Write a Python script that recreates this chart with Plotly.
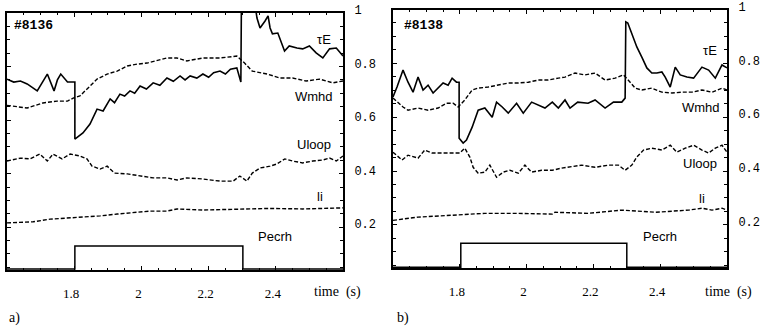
import plotly.graph_objects as go

# ---------------- data: panel a (#8136) ----------------
a_tau_t = [1.60, 1.62, 1.64, 1.66, 1.69, 1.705, 1.72, 1.74, 1.75, 1.76, 1.78, 1.802, 1.802, 1.826, 1.847,
           1.868, 1.886, 1.907, 1.92, 1.936, 1.95, 1.966, 1.98, 1.996, 2.015, 2.035, 2.055, 2.076,
           2.095, 2.115, 2.13, 2.145, 2.165, 2.183, 2.20, 2.215, 2.234, 2.25, 2.265, 2.284, 2.296,
           2.298, 2.33, 2.344, 2.353, 2.368, 2.377, 2.383, 2.39, 2.406, 2.418, 2.426, 2.44, 2.463,
           2.48, 2.50, 2.52, 2.54, 2.56, 2.58, 2.60]
a_tau_v = [0.753, 0.742, 0.746, 0.735, 0.709, 0.742, 0.772, 0.709, 0.750, 0.772, 0.742, 0.742, 0.529, 0.552,
           0.585, 0.641, 0.634, 0.679, 0.665, 0.697, 0.690, 0.709, 0.700, 0.727, 0.716, 0.739, 0.730,
           0.757, 0.745, 0.765, 0.750, 0.765, 0.757, 0.772, 0.760, 0.777, 0.783, 0.772, 0.790, 0.795,
           0.742, 1.10, 1.10, 0.981, 0.944, 0.970, 0.989, 0.944, 0.922, 0.925, 0.888, 0.858, 0.877,
           0.869, 0.866, 0.877, 0.851, 0.832, 0.866, 0.869, 0.839]

a_w_t = [1.60, 1.61, 1.66, 1.707, 1.749, 1.78, 1.797, 1.817, 1.838, 1.868, 1.898, 1.928, 1.958, 1.987,
         2.017, 2.046, 2.076, 2.106, 2.135, 2.183, 2.234, 2.284, 2.307, 2.33, 2.374, 2.413, 2.45,
         2.49, 2.53, 2.57, 2.60]
a_w_v = [0.655, 0.653, 0.645, 0.664, 0.671, 0.671, 0.682, 0.690, 0.716, 0.753, 0.772, 0.783, 0.802, 0.809,
         0.813, 0.821, 0.832, 0.832, 0.821, 0.832, 0.832, 0.839, 0.813, 0.783, 0.772, 0.757, 0.757,
         0.746, 0.753, 0.739, 0.746]

a_u_t = [1.60, 1.64, 1.668, 1.698, 1.72, 1.737, 1.764, 1.788, 1.817, 1.838, 1.853, 1.877, 1.898, 1.92,
         1.958, 1.996, 2.035, 2.076, 2.106, 2.135, 2.183, 2.234, 2.273, 2.293, 2.314, 2.33, 2.353,
         2.383, 2.403, 2.427, 2.45, 2.48, 2.51, 2.54, 2.56, 2.58, 2.60]
a_u_v = [0.447, 0.458, 0.455, 0.473, 0.447, 0.473, 0.455, 0.473, 0.466, 0.455, 0.428, 0.417, 0.428, 0.402,
         0.399, 0.391, 0.384, 0.384, 0.376, 0.384, 0.380, 0.372, 0.372, 0.391, 0.372, 0.402, 0.421,
         0.428, 0.436, 0.455, 0.447, 0.440, 0.447, 0.451, 0.458, 0.447, 0.466]

a_li_t = [1.60, 1.678, 1.728, 1.78, 1.826, 1.877, 1.928, 1.975, 2.025, 2.076, 2.106, 2.183, 2.28, 2.383,
          2.48, 2.58, 2.60]
a_li_v = [0.216, 0.220, 0.230, 0.234, 0.238, 0.242, 0.249, 0.253, 0.260, 0.260, 0.268, 0.264, 0.268, 0.270,
          0.268, 0.272, 0.272]

a_p_t = [1.60, 1.802, 1.802, 2.302, 2.302, 2.60]
a_p_v = [0.044, 0.044, 0.130, 0.130, 0.044, 0.044]

# ---------------- data: panel b (#8138) ----------------
b_tau_t = [1.60, 1.612, 1.63, 1.645, 1.66, 1.675, 1.69, 1.705, 1.72, 1.735, 1.75, 1.765, 1.777, 1.79,
           1.798, 1.798, 1.81, 1.82, 1.837, 1.855, 1.875, 1.897, 1.91, 1.927, 1.945, 1.97, 1.99,
           2.015, 2.035, 2.055, 2.077, 2.095, 2.115, 2.13, 2.153, 2.184, 2.205, 2.235, 2.26, 2.285,
           2.295, 2.297, 2.303, 2.315, 2.33, 2.345, 2.36, 2.375, 2.39, 2.405, 2.415, 2.43, 2.445,
           2.46, 2.48, 2.50, 2.525, 2.545, 2.565, 2.585, 2.60]
b_tau_v = [0.675, 0.712, 0.775, 0.730, 0.693, 0.749, 0.701, 0.719, 0.690, 0.708, 0.727, 0.719, 0.745, 0.730,
           0.730, 0.522, 0.504, 0.515, 0.563, 0.626, 0.634, 0.600, 0.656, 0.638, 0.615, 0.652, 0.615,
           0.656, 0.645, 0.634, 0.656, 0.634, 0.664, 0.634, 0.656, 0.652, 0.664, 0.634, 0.656, 0.656,
           0.671, 0.954, 0.950, 0.913, 0.861, 0.823, 0.783, 0.764, 0.764, 0.768, 0.749, 0.712, 0.786,
           0.757, 0.749, 0.745, 0.786, 0.775, 0.745, 0.794, 0.783]

b_w_t = [1.60, 1.63, 1.645, 1.675, 1.705, 1.735, 1.76, 1.78, 1.795, 1.815, 1.837, 1.855, 1.885, 1.915,
         1.945, 1.975, 2.005, 2.035, 2.065, 2.095, 2.115, 2.145, 2.175, 2.205, 2.235, 2.265, 2.29,
         2.31, 2.325, 2.345, 2.375, 2.405, 2.435, 2.465, 2.495, 2.525, 2.555, 2.585, 2.60]
b_w_v = [0.671, 0.638, 0.626, 0.634, 0.626, 0.634, 0.652, 0.652, 0.638, 0.664, 0.701, 0.708, 0.712, 0.719,
         0.727, 0.727, 0.730, 0.738, 0.738, 0.745, 0.749, 0.764, 0.757, 0.764, 0.738, 0.745, 0.757,
         0.730, 0.708, 0.701, 0.708, 0.693, 0.690, 0.693, 0.693, 0.701, 0.693, 0.708, 0.701]

b_u_t = [1.60, 1.627, 1.645, 1.675, 1.695, 1.717, 1.747, 1.777, 1.80, 1.815, 1.83, 1.84, 1.855, 1.875,
         1.89, 1.91, 1.93, 1.95, 1.975, 1.995, 2.015, 2.045, 2.077, 2.105, 2.125, 2.165, 2.205,
         2.245, 2.275, 2.295, 2.315, 2.33, 2.35, 2.375, 2.405, 2.43, 2.45, 2.475, 2.50, 2.525,
         2.545, 2.565, 2.585, 2.60]
b_u_v = [0.470, 0.441, 0.459, 0.448, 0.478, 0.467, 0.467, 0.467, 0.467, 0.485, 0.452, 0.414, 0.392, 0.396,
         0.422, 0.377, 0.396, 0.403, 0.392, 0.422, 0.396, 0.403, 0.403, 0.411, 0.414, 0.422, 0.414,
         0.422, 0.422, 0.403, 0.422, 0.452, 0.478, 0.485, 0.478, 0.496, 0.470, 0.485, 0.496, 0.478,
         0.467, 0.485, 0.496, 0.470]

b_li_t = [1.60, 1.675, 1.777, 1.875, 1.975, 2.077, 2.085, 2.184, 2.285, 2.385, 2.485, 2.525, 2.555,
          2.585, 2.60]
b_li_v = [0.217, 0.229, 0.236, 0.243, 0.243, 0.240, 0.247, 0.243, 0.255, 0.247, 0.255, 0.262, 0.255,
          0.262, 0.255]

b_p_t = [1.60, 1.803, 1.803, 2.30, 2.30, 2.60]
b_p_v = [0.043, 0.043, 0.132, 0.132, 0.043, 0.043]

x_ticks = [1.8, 2.0, 2.2, 2.4]
x_tick_text = ["1.8", "2", "2.2", "2.4"]
y_ticks = [0.2, 0.4, 0.6, 0.8, 1.0]
y_tick_text = ["0.2", "0.4", "0.6", "0.8", "1"]

# ---------------- figure ----------------
W, H = 761, 327

def px(x):
    return x / W

def py(y):
    return 1 - y / H

fig = go.Figure()
DASH = "4px,2px"

def add_panel(xa, ya, tau, w, u, li, p):
    fig.add_trace(go.Scatter(x=tau[0], y=tau[1], mode="lines", xaxis=xa, yaxis=ya,
                             line=dict(color="black", width=1.6)))
    for s in (w, u, li):
        fig.add_trace(go.Scatter(x=s[0], y=s[1], mode="lines", xaxis=xa, yaxis=ya,
                                 line=dict(color="black", width=1.4, dash=DASH)))
    fig.add_trace(go.Scatter(x=p[0], y=p[1], mode="lines", xaxis=xa, yaxis=ya,
                             line=dict(color="black", width=1.5)))

add_panel("x", "y", (a_tau_t, a_tau_v), (a_w_t, a_w_v), (a_u_t, a_u_v), (a_li_t, a_li_v), (a_p_t, a_p_v))
add_panel("x2", "y2", (b_tau_t, b_tau_v), (b_w_t, b_w_v), (b_u_t, b_u_v), (b_li_t, b_li_v), (b_p_t, b_p_v))

def xaxis_cfg(domain, anchor):
    return dict(domain=domain, anchor=anchor, range=[1.6, 2.6], tickvals=x_ticks, ticktext=x_tick_text,
                ticks="inside", ticklen=4, tickcolor="black", showline=True, linewidth=2,
                linecolor="black", mirror="allticks", showgrid=False, zeroline=False,
                automargin=False,
                tickfont=dict(family="Liberation Serif", size=13, color="black"),
                ticklabelstandoff=10, ticklabelshift=-3,
                minor=dict(dtick=0.05, ticks="inside", ticklen=2, tickcolor="black"))

def yaxis_cfg(domain, anchor):
    return dict(domain=domain, anchor=anchor, range=[0.04, 1.0], side="right", tickvals=y_ticks,
                ticktext=y_tick_text, ticks="inside", ticklen=4, tickcolor="black", showline=True,
                linewidth=2, linecolor="black", mirror="allticks", showgrid=False, zeroline=False,
                automargin=False,
                tickfont=dict(family="Liberation Mono", size=12, color="black"),
                ticklabelstandoff=7, ticklabelshift=-3,
                minor=dict(dtick=0.05, ticks="inside", ticklen=3, tickcolor="black"))

fig.update_layout(
    width=W, height=H, margin=dict(l=0, r=0, t=0, b=0, autoexpand=False),
    paper_bgcolor="white", plot_bgcolor="white", showlegend=False,
    xaxis=xaxis_cfg([px(7), px(343)], "y"),
    yaxis=yaxis_cfg([py(270), py(13)], "x"),
    xaxis2=xaxis_cfg([px(393), px(727)], "y2"),
    yaxis2=yaxis_cfg([py(268), py(9.5)], "x2"),
)

sans = dict(family="Liberation Sans", size=13, color="black")
serif = dict(family="Liberation Serif", size=14, color="black")
mono = dict(family="Liberation Mono", size=13, color="black")

labels = [
    ("<b>#8136</b>", 12, 25, mono, "left"), ("<b>#8138</b>", 402, 25, mono, "left"),
    ("τE", 324, 40, sans, "center"), ("Wmhd", 314, 97, sans, "center"),
    ("Uloop", 314, 145, sans, "center"), ("li", 320, 196, sans, "center"),
    ("Pecrh", 275, 236, sans, "center"),
    ("τE", 710, 50, sans, "center"), ("Wmhd", 701, 107, sans, "center"),
    ("Uloop", 700, 163, sans, "center"), ("li", 702, 198, sans, "center"),
    ("Pecrh", 660, 236, sans, "center"),
    ("time&nbsp; (s)", 337, 292, serif, "center"), ("time&nbsp; (s)", 728, 292, serif, "center"),
    ("a)", 7, 318, serif, "left"), ("b)", 395, 318, serif, "left"),
]
for text, x, y, font, anchor in labels:
    fig.add_annotation(text=text, x=px(x), y=py(y), xref="paper", yref="paper",
                       xanchor=anchor, yanchor="middle", showarrow=False, font=font)

fig.write_html("out.html", config={"displayModeBar": False},
               post_script="document.body.style.margin='0';document.body.style.overflow='hidden';")
